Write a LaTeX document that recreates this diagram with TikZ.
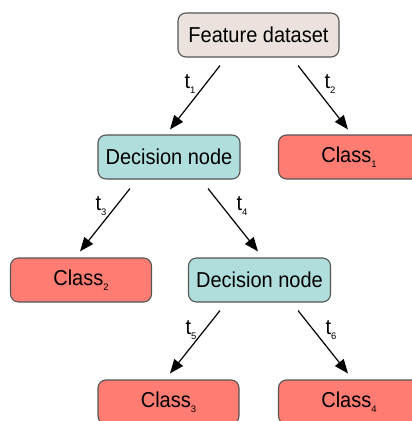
\documentclass[tikz,border=0pt]{standalone}
\usepackage{fontspec}
\usepackage{graphicx}
\setmainfont{Liberation Sans}
\usetikzlibrary{arrows.meta}
\definecolor{featfill}{RGB}{235,226,221}
\definecolor{decfill}{RGB}{176,222,220}
\definecolor{classfill}{RGB}{255,124,114}
\definecolor{edgegray}{RGB}{85,85,85}
\newcommand{\mysub}[1]{\raisebox{-5.5pt}{\fontsize{9.5}{9.5}\selectfont #1}}
\newcommand{\txt}[1]{\scalebox{1}[1.08]{#1}}
\tikzset{
  box/.style={draw=edgegray, line width=1.1pt, rounded corners=8pt, inner sep=0pt,
    minimum height=44pt, font=\fontsize{20}{24}\selectfont},
  featbox/.style={box, fill=featfill, minimum width=161pt},
  decbox/.style={box, fill=decfill, minimum width=142pt},
  classbox/.style={box, fill=classfill, minimum width=141pt},
  arr/.style={-{Triangle[length=14pt,width=11pt]}, line width=1.2pt, black},
  lbl/.style={inner sep=0pt, font=\fontsize{20}{24}\selectfont}
}
\begin{document}
\begin{tikzpicture}[x=1pt,y=-1pt]
\clip (0,0) rectangle (412,421);
\fill[white] (0,0) rectangle (412,421);
\node[featbox] (feat) at (258.5,35) {\txt{Feature dataset}};
\node[decbox] (dec1) at (169,157) {\txt{Decision node}};
\node[classbox] (c1) at (349,157) {\txt{Class}\mysub{1}};
\node[classbox] (c2) at (81,280) {\txt{Class}\mysub{2}};
\node[decbox] (dec2) at (259.5,280) {\txt{Decision node}};
\node[classbox] (c3) at (168.5,402) {\txt{Class}\mysub{3}};
\node[classbox] (c4) at (349,402) {\txt{Class}\mysub{4}};
\draw[arr] ([xshift=-38.5pt,yshift=-8pt]feat.south) -- ([xshift=1pt,yshift=5pt]dec1.north);
\draw[arr] ([xshift=39.5pt,yshift=-8pt]feat.south) -- ([xshift=-1pt,yshift=5pt]c1.north);
\draw[arr] ([xshift=-39pt,yshift=-9pt]dec1.south) -- ([xshift=-1pt,yshift=6pt]c2.north);
\draw[arr] ([xshift=39pt,yshift=-9pt]dec1.south) -- ([xshift=-1.5pt,yshift=6pt]dec2.north);
\draw[arr] ([xshift=-39.5pt,yshift=-8pt]dec2.south) -- ([xshift=1.5pt,yshift=6pt]c3.north);
\draw[arr] ([xshift=38.5pt,yshift=-8pt]dec2.south) -- ([xshift=-1pt,yshift=6pt]c4.north);
\node[lbl] (l1) at (190,84) {\txt{t}\mysub{1}};
\node[lbl] (l2) at (330,84) {\txt{t}\mysub{2}};
\node[lbl] (l3) at (101,206) {\txt{t}\mysub{3}};
\node[lbl] (l4) at (242,206) {\txt{t}\mysub{4}};
\node[lbl] (l5) at (191,330) {\txt{t}\mysub{5}};
\node[lbl] (l6) at (331,330) {\txt{t}\mysub{6}};
\end{tikzpicture}
\end{document}
